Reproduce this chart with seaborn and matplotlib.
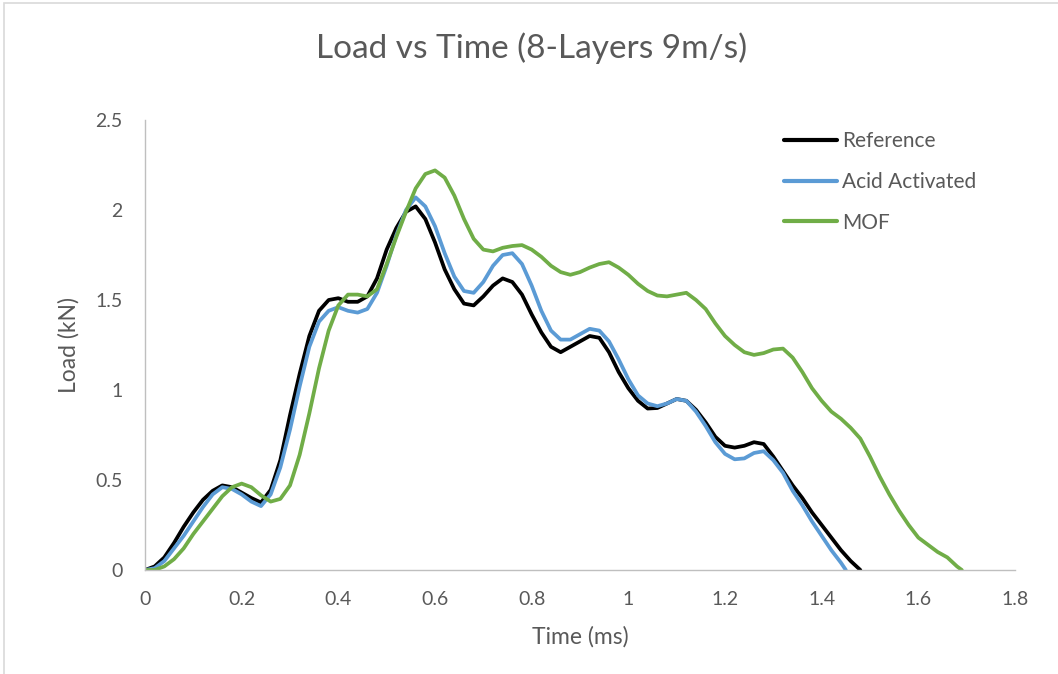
import matplotlib
matplotlib.use("Agg")
import matplotlib.pyplot as plt
import seaborn as sns
import pandas as pd
from matplotlib.patches import Rectangle

# Sampling grid of the measurements (ms)
time_grid = [
    0.00, 0.02, 0.04, 0.06, 0.08, 0.10, 0.12, 0.14, 0.16, 0.18,
    0.20, 0.22, 0.24, 0.26, 0.28, 0.30, 0.32, 0.34, 0.36, 0.38,
    0.40, 0.42, 0.44, 0.46, 0.48, 0.50, 0.52, 0.54, 0.56, 0.58,
    0.60, 0.62, 0.64, 0.66, 0.68, 0.70, 0.72, 0.74, 0.76, 0.78,
    0.80, 0.82, 0.84, 0.86, 0.88, 0.90, 0.92, 0.94, 0.96, 0.98,
    1.00, 1.02, 1.04, 1.06, 1.08, 1.10, 1.12, 1.14, 1.16, 1.18,
    1.20, 1.22, 1.24, 1.26, 1.28, 1.30, 1.32, 1.34, 1.36, 1.38,
    1.40, 1.42, 1.44, 1.46, 1.48, 1.50, 1.52, 1.54, 1.56, 1.58,
    1.60, 1.62, 1.64, 1.66, 1.68,
]

# Load (kN)
load_reference = [
    0.00, 0.02, 0.07, 0.15, 0.24, 0.32, 0.39, 0.44, 0.47, 0.46,
    0.43, 0.40, 0.375, 0.445, 0.61, 0.86, 1.09, 1.30, 1.44, 1.50,
    1.51, 1.49, 1.49, 1.52, 1.62, 1.78, 1.90, 1.99, 2.02, 1.95,
    1.82, 1.67, 1.56, 1.48, 1.47, 1.52, 1.58, 1.62, 1.60, 1.53,
    1.42, 1.32, 1.24, 1.21, 1.24, 1.27, 1.30, 1.29, 1.21, 1.10,
    1.01, 0.94, 0.897, 0.90, 0.925, 0.95, 0.94, 0.89, 0.82, 0.74,
    0.69, 0.68, 0.69, 0.71, 0.70, 0.63, 0.55, 0.47, 0.40, 0.32,
    0.25, 0.18, 0.11, 0.05, 0.00,
]
load_acid = [
    0.00, 0.01, 0.05, 0.12, 0.19, 0.27, 0.35, 0.42, 0.46, 0.45,
    0.42, 0.38, 0.355, 0.42, 0.57, 0.78, 1.02, 1.24, 1.38, 1.44,
    1.46, 1.44, 1.43, 1.45, 1.54, 1.69, 1.86, 2.00, 2.07, 2.02,
    1.91, 1.76, 1.63, 1.55, 1.54, 1.60, 1.69, 1.75, 1.76, 1.70,
    1.58, 1.44, 1.33, 1.28, 1.28, 1.31, 1.34, 1.33, 1.27, 1.17,
    1.06, 0.97, 0.925, 0.91, 0.925, 0.95, 0.94, 0.88, 0.80, 0.71,
    0.645, 0.615, 0.62, 0.65, 0.66, 0.61, 0.54, 0.44, 0.36, 0.27,
    0.19, 0.11, 0.04, 0.00,
]
load_mof = [
    0.00, 0.00, 0.02, 0.06, 0.12, 0.20, 0.27, 0.34, 0.41, 0.46,
    0.48, 0.46, 0.415, 0.38, 0.395, 0.47, 0.64, 0.87, 1.12, 1.33,
    1.47, 1.53, 1.53, 1.52, 1.56, 1.70, 1.85, 1.99, 2.12, 2.20,
    2.22, 2.18, 2.08, 1.95, 1.84, 1.78, 1.77, 1.79, 1.80, 1.805,
    1.78, 1.74, 1.69, 1.655, 1.64, 1.655, 1.68, 1.70, 1.71, 1.68,
    1.64, 1.59, 1.55, 1.525, 1.52, 1.53, 1.54, 1.50, 1.45, 1.37,
    1.30, 1.25, 1.21, 1.195, 1.205, 1.225, 1.23, 1.18, 1.10, 1.01,
    0.94, 0.88, 0.84, 0.79, 0.73, 0.63, 0.52, 0.42, 0.33, 0.25,
    0.18, 0.14, 0.10, 0.07, 0.02, 0.00,
]

time_reference = time_grid[:75]
time_acid = time_grid[:73] + [1.45]
time_mof = time_grid[:85] + [1.69]

series_names = ["Reference", "Acid Activated", "MOF"]
series_colors = ["#000000", "#5B9BD5", "#70AD47"]

x_ticks = [0, 0.2, 0.4, 0.6, 0.8, 1.0, 1.2, 1.4, 1.6, 1.8]
x_tick_labels = ["0", "0.2", "0.4", "0.6", "0.8", "1", "1.2", "1.4", "1.6", "1.8"]
y_ticks = [0, 0.5, 1.0, 1.5, 2.0, 2.5]
y_tick_labels = ["0", "0.5", "1", "1.5", "2", "2.5"]

frames = [
    pd.DataFrame({"Time": t, "Load": v, "Series": name})
    for t, v, name in zip([time_reference, time_acid, time_mof],
                          [load_reference, load_acid, load_mof],
                          series_names)
]
df = pd.concat(frames, ignore_index=True)

sns.set_theme(style="white")
plt.rcParams["font.family"] = ["Lato", "DejaVu Sans"]

text_color = "#595959"
axis_color = "#BFBFBF"

fig = plt.figure(figsize=(10.58, 6.74), dpi=100)
ax = fig.add_axes([145 / 1058, 1 - 570 / 674, 870 / 1058, 450 / 674])

sns.lineplot(data=df, x="Time", y="Load", hue="Series", hue_order=series_names,
             palette=series_colors, linewidth=2.7, sort=False, estimator=None,
             ax=ax)
for line in ax.get_lines():
    line.set_solid_joinstyle("round")
    line.set_solid_capstyle("round")

ax.set_xlim(0, 1.8)
ax.set_ylim(0, 2.5)
ax.set_xticks(x_ticks)
ax.set_xticklabels(x_tick_labels)
ax.set_yticks(y_ticks)
ax.set_yticklabels(y_tick_labels)
ax.tick_params(axis="both", length=0, labelsize=14, labelcolor=text_color)
ax.tick_params(axis="x", pad=15)
ax.tick_params(axis="y", pad=16)

for side in ["top", "right"]:
    ax.spines[side].set_visible(False)
for side in ["left", "bottom"]:
    ax.spines[side].set_color(axis_color)
    ax.spines[side].set_linewidth(1.0)

ax.set_xlabel("Time (ms)", fontsize=16.5, color=text_color, va="center")
ax.set_ylabel("Load (kN)", fontsize=16.5, color=text_color, va="center")
ax.xaxis.set_label_coords(0.5, -67 / 450)
ax.yaxis.set_label_coords(-76 / 870, 0.5)

fig.text(532 / 1058, 1 - 48 / 674, "Load vs Time (8-Layers 9m/s)",
         ha="center", va="center", fontsize=24, color=text_color)

leg = ax.legend(loc="upper left", bbox_to_anchor=(784 / 1058, 1 - 131 / 674),
                bbox_transform=fig.transFigure, frameon=False,
                fontsize=15, handlelength=2.55, handletextpad=0.25,
                labelspacing=1.0, borderpad=0, borderaxespad=0)
for txt in leg.get_texts():
    txt.set_color(text_color)
for h in leg.get_lines():
    h.set_linewidth(3.0)

# Chart-area border
fig.add_artist(Rectangle((4 / 1058, -0.05), 1.2, 1 - 3 / 674 + 0.05,
                         transform=fig.transFigure, fill=False,
                         edgecolor="#D9D9D9", linewidth=1.2))

fig.savefig("out.png", dpi=100)
